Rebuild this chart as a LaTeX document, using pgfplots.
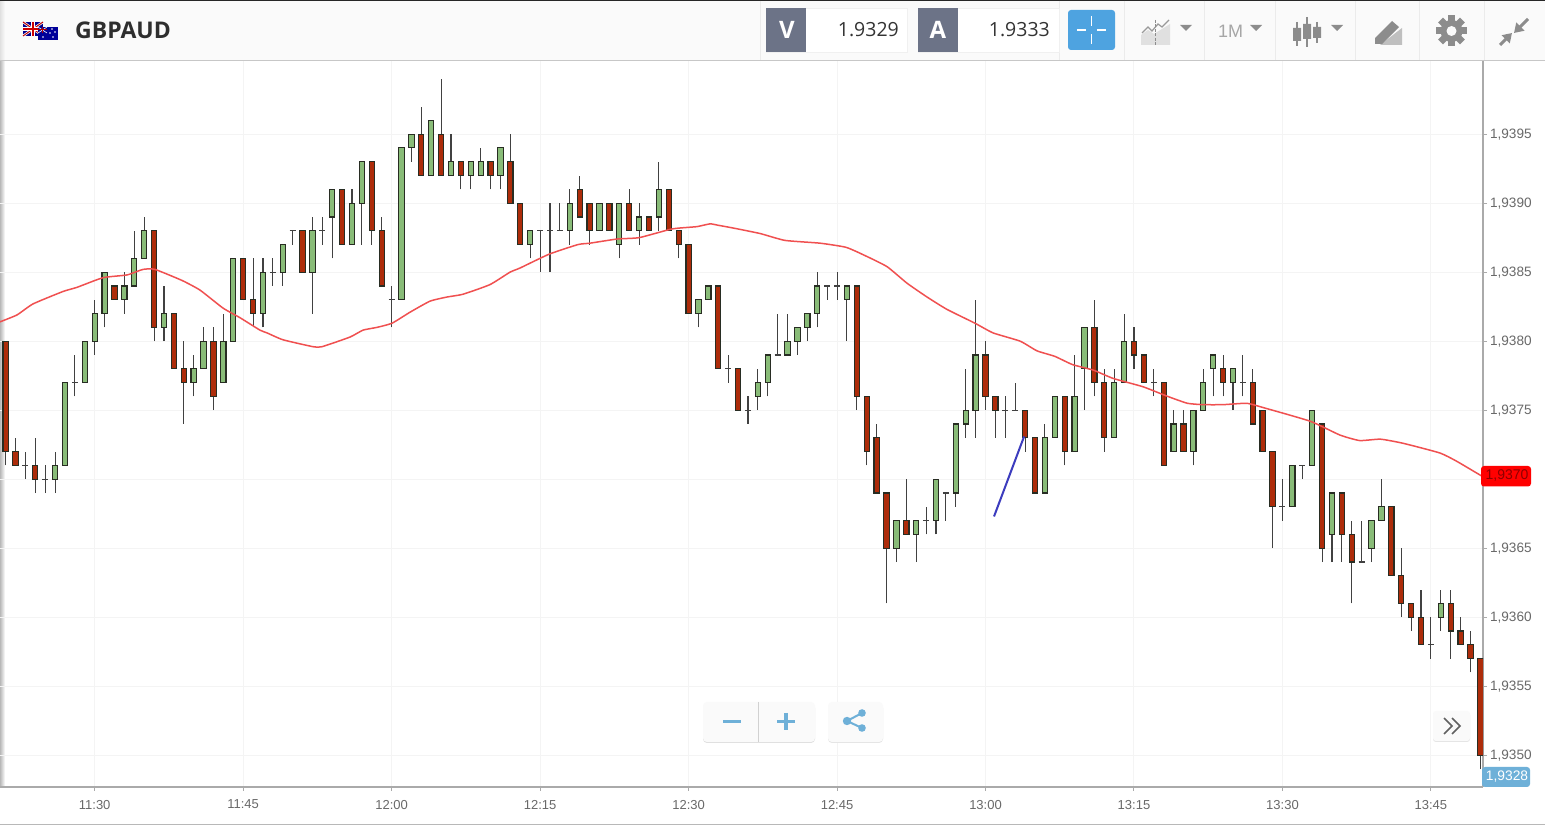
\documentclass[border=0pt]{standalone}
\usepackage{pgfplots}
\pgfplotsset{compat=1.18}
\usetikzlibrary{arrows.meta}
\usepackage{fontspec}
\setmainfont{Liberation Sans}
\newfontfamily\os{Open Sans}
\definecolor{cg}{RGB}{137,188,120}
\definecolor{cr}{RGB}{173,44,10}
\definecolor{edge}{RGB}{40,45,35}
\definecolor{wick}{RGB}{65,65,65}
\definecolor{gridc}{RGB}{244,244,244}
\definecolor{axisc}{RGB}{170,170,170}
\definecolor{labc}{RGB}{105,105,105}
\definecolor{ema}{RGB}{240,80,80}
\definecolor{barbg}{RGB}{250,250,250}
\definecolor{slate}{RGB}{108,115,135}
\definecolor{btn}{RGB}{78,163,224}
\definecolor{icon}{RGB}{140,140,140}
\definecolor{lblue}{RGB}{110,176,216}
% i, high, body top, body bottom, low
\newcommand\candle[6]{%
  \pgfmathsetmacro\xa{#2-0.265}\pgfmathsetmacro\xb{#2+0.265}%
  \addplot[forget plot,mark=none,draw=wick,line width=1.1pt] coordinates {(#2,#6)(#2,#3)};
  \addplot[forget plot,mark=none,draw=edge,line width=1.1pt,fill=#1,line join=miter] coordinates {(\xa,#4)(\xb,#4)(\xb,#5)(\xa,#5)} -- cycle;
}
\newcommand\cG[5]{\candle{cg}{#1}{#2}{#3}{#4}{#5}}
\newcommand\cR[5]{\candle{cr}{#1}{#2}{#3}{#4}{#5}}
\newcommand\cD[5]{%
  \pgfmathsetmacro\xa{#1-0.3}\pgfmathsetmacro\xb{#1+0.3}%
  \addplot[forget plot,mark=none,draw=wick,line width=1.1pt] coordinates {(#1,#5)(#1,#2)};
  \addplot[forget plot,mark=none,draw=wick,line width=1.1pt] coordinates {(\xa,#3)(\xb,#3)};
}
\begin{document}
\begin{tikzpicture}[x=1pt,y=1pt]
\useasboundingbox (0,0) rectangle (1545,826);
\fill[white] (0,0) rectangle (1545,826);
\shade[left color=black!28,right color=white] (0,40) rectangle (5,765);
\begin{axis}[at={(0pt,39pt)},anchor=south west,scale only axis,width=1483pt,height=726pt,
  xmin=-0.566,xmax=149.26,ymin=1.93477,ymax=1.94003,
  axis x line=bottom,axis y line=right,axis line style={-,draw=axisc,line width=1.6pt},
  grid=major,grid style={gridc,line width=1pt},
  tick align=outside,major tick length=4pt,tick style={axisc,line width=1pt},
  xtick={9,24,39,54,69,84,99,114,129,144},
  xticklabels={11:30,11:45,12:00,12:15,12:30,12:45,13:00,13:15,13:30,13:45},
  ytick={1.9350,1.9355,1.9360,1.9365,1.9370,1.9375,1.9380,1.9385,1.9390,1.9395},
  yticklabels={{1,9350},{1,9355},{1,9360},{1,9365},{},{1,9375},{1,9380},{1,9385},{1,9390},{1,9395}},
  yticklabel style={xshift=-0.5pt},
  tick label style={font=\fontsize{13.6}{15}\selectfont,text=labc},
  x tick label style={font=\fontsize{13}{15}\selectfont,yshift=-5.5pt},
  clip=true]
\cR{0}{1.9380}{1.9380}{1.9372}{1.9371}
\cR{1}{1.9373}{1.9372}{1.9371}{1.9371}
\cD{2}{1.9372}{1.9371}{1.9371}{1.9370}
\cR{3}{1.9373}{1.9371}{1.9370}{1.9369}
\cD{4}{1.9371}{1.9370}{1.9370}{1.9369}
\cG{5}{1.9372}{1.9371}{1.9370}{1.9369}
\cG{6}{1.9377}{1.9377}{1.9371}{1.9371}
\cD{7}{1.9379}{1.9377}{1.9377}{1.9376}
\cG{8}{1.9380}{1.9380}{1.9377}{1.9377}
\cG{9}{1.9383}{1.9382}{1.9380}{1.9379}
\cG{10}{1.9385}{1.9385}{1.9382}{1.9381}
\cR{11}{1.9384}{1.9384}{1.9383}{1.9383}
\cG{12}{1.9385}{1.9384}{1.9383}{1.9382}
\cG{13}{1.9388}{1.9386}{1.9384}{1.9384}
\cG{14}{1.9389}{1.9388}{1.9386}{1.9386}
\cR{15}{1.9388}{1.9388}{1.9381}{1.9380}
\cG{16}{1.9384}{1.9382}{1.9381}{1.9380}
\cR{17}{1.9382}{1.9382}{1.9378}{1.9378}
\cR{18}{1.9380}{1.9378}{1.9377}{1.9374}
\cG{19}{1.9379}{1.9378}{1.9377}{1.9376}
\cG{20}{1.9381}{1.9380}{1.9378}{1.9378}
\cR{21}{1.9381}{1.9380}{1.9376}{1.9375}
\cG{22}{1.9382}{1.9380}{1.9377}{1.9377}
\cG{23}{1.9386}{1.9386}{1.9380}{1.9380}
\cR{24}{1.9386}{1.9386}{1.9383}{1.9383}
\cR{25}{1.9386}{1.9383}{1.9382}{1.9381}
\cG{26}{1.9386}{1.9385}{1.9382}{1.9381}
\cD{27}{1.9386}{1.9385}{1.9385}{1.9384}
\cG{28}{1.9387}{1.9387}{1.9385}{1.9384}
\cD{29}{1.9388}{1.9388}{1.9388}{1.9387}
\cR{30}{1.9388}{1.9388}{1.9385}{1.9385}
\cG{31}{1.9389}{1.9388}{1.9385}{1.9382}
\cD{32}{1.9389}{1.9388}{1.9388}{1.9387}
\cG{33}{1.9391}{1.9391}{1.9389}{1.9386}
\cR{34}{1.9391}{1.9391}{1.9387}{1.9387}
\cG{35}{1.9391}{1.9390}{1.9387}{1.9387}
\cG{36}{1.9393}{1.9393}{1.9390}{1.9387}
\cR{37}{1.9393}{1.9393}{1.9388}{1.9387}
\cR{38}{1.9389}{1.9388}{1.9384}{1.9384}
\cD{39}{1.9384}{1.9383}{1.9383}{1.9381}
\cG{40}{1.9394}{1.9394}{1.9383}{1.9383}
\cG{41}{1.9395}{1.9395}{1.9394}{1.9393}
\cR{42}{1.9397}{1.9395}{1.9392}{1.9392}
\cG{43}{1.9396}{1.9396}{1.9392}{1.9392}
\cR{44}{1.9399}{1.9395}{1.9392}{1.9392}
\cG{45}{1.9395}{1.9393}{1.9392}{1.9392}
\cR{46}{1.9393}{1.9393}{1.9392}{1.9391}
\cG{47}{1.9393}{1.9393}{1.9392}{1.9391}
\cG{48}{1.9394}{1.9393}{1.9392}{1.9392}
\cR{49}{1.9393}{1.9393}{1.9392}{1.9391}
\cG{50}{1.9394}{1.9394}{1.9392}{1.9391}
\cR{51}{1.9395}{1.9393}{1.9390}{1.9390}
\cR{52}{1.9390}{1.9390}{1.9387}{1.9387}
\cG{53}{1.9388}{1.9388}{1.9387}{1.9386}
\cD{54}{1.9388}{1.9388}{1.9388}{1.9385}
\cD{55}{1.9390}{1.9388}{1.9388}{1.9385}
\cD{56}{1.9390}{1.9388}{1.9388}{1.9388}
\cG{57}{1.9391}{1.9390}{1.9388}{1.9387}
\cR{58}{1.9392}{1.9391}{1.9389}{1.9389}
\cR{59}{1.9390}{1.9390}{1.9388}{1.9387}
\cG{60}{1.9390}{1.9390}{1.9388}{1.9388}
\cR{61}{1.9390}{1.9390}{1.9388}{1.9388}
\cG{62}{1.9390}{1.9390}{1.9387}{1.9386}
\cR{63}{1.9391}{1.9390}{1.9388}{1.9388}
\cG{64}{1.9390}{1.9389}{1.9388}{1.9387}
\cR{65}{1.9389}{1.9389}{1.9388}{1.9388}
\cG{66}{1.9393}{1.9391}{1.9389}{1.9388}
\cR{67}{1.9391}{1.9391}{1.9388}{1.9388}
\cR{68}{1.9388}{1.9388}{1.9387}{1.9386}
\cR{69}{1.9387}{1.9387}{1.9382}{1.9382}
\cG{70}{1.9383}{1.9383}{1.9382}{1.9381}
\cG{71}{1.9384}{1.9384}{1.9383}{1.9383}
\cR{72}{1.9384}{1.9384}{1.9378}{1.9378}
\cD{73}{1.9379}{1.9378}{1.9378}{1.9377}
\cR{74}{1.9378}{1.9378}{1.9375}{1.9375}
\cD{75}{1.9376}{1.9375}{1.9375}{1.9374}
\cG{76}{1.9378}{1.9377}{1.9376}{1.9375}
\cG{77}{1.9379}{1.9379}{1.9377}{1.9376}
\cD{78}{1.9382}{1.9379}{1.9379}{1.9379}
\cG{79}{1.9382}{1.9380}{1.9379}{1.9379}
\cG{80}{1.9381}{1.9381}{1.9380}{1.9379}
\cG{81}{1.9382}{1.9382}{1.9381}{1.9380}
\cG{82}{1.9385}{1.9384}{1.9382}{1.9381}
\cD{83}{1.9384}{1.9384}{1.9384}{1.9383}
\cD{84}{1.9385}{1.9384}{1.9384}{1.9383}
\cG{85}{1.9384}{1.9384}{1.9383}{1.9380}
\cR{86}{1.9384}{1.9384}{1.9376}{1.9375}
\cR{87}{1.9376}{1.9376}{1.9372}{1.9371}
\cR{88}{1.9374}{1.9373}{1.9369}{1.9369}
\cR{89}{1.9369}{1.9369}{1.9365}{1.9361}
\cG{90}{1.9367}{1.9367}{1.9365}{1.9364}
\cR{91}{1.9370}{1.9367}{1.9366}{1.9366}
\cG{92}{1.9367}{1.9367}{1.9366}{1.9364}
\cD{93}{1.9368}{1.9367}{1.9367}{1.9366}
\cG{94}{1.9370}{1.9370}{1.9367}{1.9366}
\cD{95}{1.9369}{1.9369}{1.9369}{1.9367}
\cG{96}{1.9374}{1.9374}{1.9369}{1.9368}
\cG{97}{1.9378}{1.9375}{1.9374}{1.9373}
\cG{98}{1.9383}{1.9379}{1.9375}{1.9373}
\cR{99}{1.9380}{1.9379}{1.9376}{1.9375}
\cR{100}{1.9376}{1.9376}{1.9375}{1.9373}
\cD{101}{1.9376}{1.9375}{1.9375}{1.9373}
\cD{102}{1.9377}{1.9375}{1.9375}{1.9375}
\cR{103}{1.9375}{1.9375}{1.9373}{1.9372}
\cR{104}{1.9373}{1.9373}{1.9369}{1.9369}
\cG{105}{1.9374}{1.9373}{1.9369}{1.9369}
\cG{106}{1.9376}{1.9376}{1.9373}{1.9373}
\cR{107}{1.9376}{1.9376}{1.9372}{1.9371}
\cG{108}{1.9379}{1.9376}{1.9372}{1.9372}
\cG{109}{1.9381}{1.9381}{1.9378}{1.9375}
\cR{110}{1.9383}{1.9381}{1.9377}{1.9376}
\cR{111}{1.9378}{1.9377}{1.9373}{1.9372}
\cG{112}{1.9378}{1.9377}{1.9373}{1.9373}
\cG{113}{1.9382}{1.9380}{1.9377}{1.9377}
\cR{114}{1.9381}{1.9380}{1.9379}{1.9378}
\cR{115}{1.9379}{1.9379}{1.9377}{1.9377}
\cD{116}{1.9378}{1.9377}{1.9377}{1.9376}
\cR{117}{1.9377}{1.9377}{1.9371}{1.9371}
\cG{118}{1.9375}{1.9374}{1.9372}{1.9372}
\cR{119}{1.9375}{1.9374}{1.9372}{1.9372}
\cG{120}{1.9375}{1.9375}{1.9372}{1.9371}
\cG{121}{1.9378}{1.9377}{1.9375}{1.9375}
\cG{122}{1.9379}{1.9379}{1.9378}{1.9376}
\cR{123}{1.9379}{1.9378}{1.9377}{1.9376}
\cG{124}{1.9378}{1.9378}{1.9377}{1.9375}
\cD{125}{1.9379}{1.9377}{1.9377}{1.9376}
\cR{126}{1.9378}{1.9377}{1.9374}{1.9374}
\cR{127}{1.9375}{1.9375}{1.9372}{1.9372}
\cR{128}{1.9372}{1.9372}{1.9368}{1.9365}
\cD{129}{1.9370}{1.9368}{1.9368}{1.9367}
\cG{130}{1.9371}{1.9371}{1.9368}{1.9368}
\cD{131}{1.9371}{1.9371}{1.9371}{1.9370}
\cG{132}{1.9375}{1.9375}{1.9371}{1.9371}
\cR{133}{1.9374}{1.9374}{1.9365}{1.9364}
\cG{134}{1.9369}{1.9369}{1.9366}{1.9364}
\cR{135}{1.9369}{1.9369}{1.9366}{1.9364}
\cR{136}{1.9367}{1.9366}{1.9364}{1.9361}
\cD{137}{1.9367}{1.9364}{1.9364}{1.9364}
\cG{138}{1.9367}{1.9367}{1.9365}{1.9364}
\cG{139}{1.9370}{1.9368}{1.9367}{1.9367}
\cR{140}{1.9368}{1.9368}{1.9363}{1.9363}
\cR{141}{1.9365}{1.9363}{1.9361}{1.9360}
\cR{142}{1.9361}{1.9361}{1.9360}{1.9359}
\cR{143}{1.9362}{1.9360}{1.9358}{1.9358}
\cD{144}{1.9360}{1.9358}{1.9358}{1.9357}
\cG{145}{1.9362}{1.9361}{1.9360}{1.9359}
\cR{146}{1.9362}{1.9361}{1.9359}{1.9357}
\cR{147}{1.9360}{1.9359}{1.9358}{1.9358}
\cR{148}{1.9359}{1.9358}{1.9357}{1.9356}
\cR{149}{1.9357}{1.9357}{1.9350}{1.9349}
% moving average
\addplot[ema,line width=1.5pt,mark=none,smooth,tension=0.3,forget plot] coordinates {
(-0.57,1.93814)(1.15,1.93819)(2.77,1.93827)(5.8,1.93836)(7.21,1.93839)(9.84,1.93846)(12.27,1.93848)(13.88,1.93852)(15.09,1.93852)
(17.82,1.93844)(19.64,1.93837)(21.96,1.93824)(23.68,1.93817)(25.7,1.93808)(26.41,1.93806)(28.03,1.93801)(31.06,1.93796)(31.97,1.93796)
(34.8,1.93803)(36.11,1.93808)(37.52,1.93810)(39.04,1.93813)(40.86,1.93821)(42.88,1.93829)(44.6,1.93832)(46.21,1.93834)(48.94,1.93841)
(50.96,1.93850)(51.97,1.93853)(54.9,1.93863)(57.83,1.93870)(59.04,1.93871)(61.77,1.93874)(64.0,1.93875)(67.12,1.93881)(68.14,1.93882)
(69.85,1.93883)(71.17,1.93885)(71.97,1.93884)(73.49,1.93882)(76.22,1.93878)(78.75,1.93873)(82.28,1.93871)(84.91,1.93868)(86.83,1.93862)
(89.05,1.93854)(91.07,1.93842)(93.09,1.93832)(95.11,1.93823)(97.94,1.93813)(99.76,1.93806)(102.5,1.93800)(104.2,1.93793)(106.0,1.93789)
(107.8,1.93783)(109.9,1.93779)(111.9,1.93773)(114.9,1.93767)(117.4,1.93760)(119.4,1.93755)(121.0,1.93754)(123.0,1.93754)(125.4,1.93755)
(127.0,1.93752)(131.8,1.93742)(134.8,1.93732)(136.8,1.93728)(138.9,1.93729)(141.2,1.93726)(144.9,1.93719)(146.6,1.93713)(149.2,1.93702)};
% hand-drawn trend stroke
\addplot[color={rgb,255:red,60;green,60;blue,190},line width=2pt,mark=none,forget plot] coordinates {(99.86,1.93673)(102.9,1.93731)};
\end{axis}
\begin{scope}[shift={(0pt,826pt)},x=1pt,y=-1pt]
% header bar
\shade[left color=black!12,right color=barbg] (0,1) rectangle (5,60);
\fill[barbg] (5,1) rectangle (1545,60);
\fill[black!85] (0,0) rectangle (1545,1.2);
\draw[black!22,line width=1.2pt] (0,60.5) -- (1545,60.5);
\draw[black!28,line width=1pt] (0,824.5) -- (1545,824.5);
\foreach \x in {760,1059,1124,1204,1275,1355,1419,1484} \draw[black!8,line width=1pt] (\x,1) -- (\x,60);
% flags
\fill[blue!55!black] (23,22) rectangle (43,36);
\draw[white,line width=2.4pt] (23,22) -- (43,36) (43,22) -- (23,36);
\draw[red!75!black,line width=1pt] (23,22) -- (43,36) (43,22) -- (23,36);
\draw[white,line width=4pt] (33,22) -- (33,36) (23,29) -- (43,29);
\draw[red!80!black,line width=2.2pt] (33,22) -- (33,36) (23,29) -- (43,29);
\fill[blue!60!black] (38,27) rectangle (58,40.5);
\draw[white,line width=.6pt] (38,27) -- (47,33) (47,27) -- (38,33);
\draw[red!70!black,line width=1pt] (42.5,27) -- (42.5,33) (38,30) -- (47,30);
\foreach \a/\b in {52/29,55/32,50/33,53/37,43/37} \fill[white] (\a,\b) circle (.8);
\node[anchor=west,inner sep=0,font=\os\bfseries\fontsize{23}{25}\selectfont,text=black!82] at (75,30.5) {GBPAUD};
% bid and ask
\fill[white,draw=black!6] (766,8) rectangle (907,52);
\fill[slate] (766,8) rectangle (806,52);
\node[font=\os\bfseries\fontsize{24}{26}\selectfont,text=white] at (787,30) {V};
\node[anchor=east,inner sep=0,font=\os\fontsize{19.5}{22}\selectfont,text=black!80] at (899,30) {1.9329};
\fill[white,draw=black!6] (918,8) rectangle (1059,52);
\fill[slate] (918,8) rectangle (958,52);
\node[font=\os\bfseries\fontsize{24}{26}\selectfont,text=white] at (938,30) {A};
\node[anchor=east,inner sep=0,font=\os\fontsize{19.5}{22}\selectfont,text=black!80] at (1050,30) {1.9333};
% crosshair button
\fill[btn,rounded corners=3pt] (1068,10) rectangle (1115,50);
\draw[white,line width=1.8pt] (1091.5,16) -- (1091.5,26) (1091.5,34) -- (1091.5,44) (1077,30) -- (1086,30) (1097,30) -- (1106,30);
% chart type icon
\fill[black!12] (1141,45) -- (1141,35) -- (1148,30) -- (1154,34) -- (1170,24) -- (1170,45) -- cycle;
\draw[black!40,line width=1.2pt] (1142,33) -- (1148,27) -- (1152,31) -- (1158,24) -- (1162,27) -- (1169,20);
\draw[black!45,line width=1pt,dash pattern=on 3pt off 1.5pt] (1155.5,20) -- (1155.5,46);
\fill[black!45] (1180,25) -- (1192,25) -- (1186,31) -- cycle;
% period
\node[anchor=west,inner sep=0,font=\fontsize{18}{20}\selectfont,text=black!35] at (1218,31) {1M};
\fill[black!45] (1250,25) -- (1262,25) -- (1256,31) -- cycle;
% candle icon
\draw[icon,line width=1.6pt] (1297,22) -- (1297,46) (1307,17) -- (1307,47) (1317,22) -- (1317,43);
\fill[icon] (1293,28) rectangle (1301,41) (1303,24) rectangle (1311,39) (1313,27) rectangle (1321,38);
\fill[black!45] (1331,25) -- (1343,25) -- (1337,31) -- cycle;
% pen icon
\fill[black!25] (1402,28) -- (1402,45) -- (1380,45) -- cycle;
\fill[icon] (1375,38) -- (1392,21) -- (1399,27) -- (1382,44) -- (1375,44) -- cycle;
% gear
\foreach \a in {0,45,...,315} \fill[icon,rotate around={\a:(1451.5,31)}] (1448,15.5) rectangle (1455,22);
\fill[icon] (1451.5,31) circle (11);
\fill[barbg] (1451.5,31) circle (5);
% compress arrows
\draw[icon,line width=3pt,-{Triangle[length=9pt,width=11pt]}] (1528,19) -- (1514,33);
\draw[icon,line width=3pt,-{Triangle[length=9pt,width=11pt]}] (1500,45) -- (1512,33);
% price tags
\fill[red,rounded corners=3pt] (1481,466) rectangle (1531,486.5);
\node[font=\fontsize{14}{16}\selectfont,text=red!55!black] at (1507,476) {1,9370};
\fill[lblue,rounded corners=3pt] (1482,767) rectangle (1530,787);
\node[font=\fontsize{13.8}{16}\selectfont,text=white] at (1507,777) {1,9328};
% zoom buttons
\fill[black!12,rounded corners=4pt] (703,704) rectangle (815,743);
\fill[barbg,rounded corners=4pt] (703,702) rectangle (815,742);
\draw[black!18,line width=.8pt] (758.5,702) -- (758.5,742);
\draw[lblue,line width=3.6pt] (723,721.5) -- (741,721.5) (777,721.5) -- (795,721.5) (786,713) -- (786,730);
\fill[black!10,rounded corners=4pt] (828,704) rectangle (883,743);
\fill[barbg,rounded corners=4pt] (828,702) rectangle (883,742);
\draw[lblue,line width=2pt] (862,713) -- (847,721) -- (862,728);
\fill[lblue] (862,713) circle (3.8) (847,721) circle (4.2) (862,728) circle (3.8);
% scroll button
\fill[black!10,rounded corners=3pt] (1433,712) rectangle (1470,742);
\fill[barbg,rounded corners=3pt] (1433,711) rectangle (1470,741);
\draw[black!62,line width=1.7pt] (1444,718) -- (1452,726) -- (1444,734) (1452,718) -- (1460,726) -- (1452,734);
\end{scope}
\end{tikzpicture}
\end{document}
